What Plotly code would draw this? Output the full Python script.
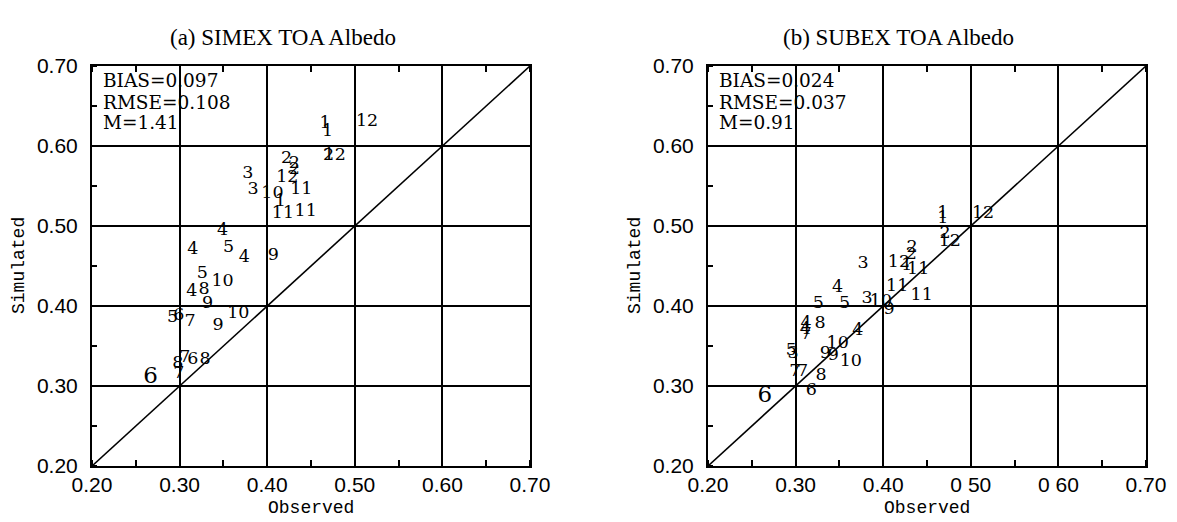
import plotly.graph_objects as go

# ---------------- data ----------------
# (a) SIMEX
simex_labels = ["1", "1", "12", "2", "12", "2", "2", "2", "12", "3", "3", "10", "1", "11", "11", "11",
                "4", "4", "5", "4", "9", "5", "10", "4", "8", "9", "5", "6", "7", "10", "9",
                "7", "6", "8", "8", "7", "6"]
simex_obs = [0.466, 0.469, 0.514, 0.470, 0.477, 0.422, 0.431, 0.431, 0.423, 0.378, 0.384, 0.406, 0.415, 0.439, 0.418, 0.444,
             0.349, 0.315, 0.356, 0.374, 0.407, 0.326, 0.349, 0.314, 0.328, 0.332, 0.292, 0.299, 0.312, 0.367, 0.344,
             0.306, 0.315, 0.329, 0.298, 0.299, 0.267]
simex_sim = [0.628, 0.618, 0.631, 0.588, 0.588, 0.584, 0.578, 0.571, 0.560, 0.565, 0.545, 0.541, 0.530, 0.545, 0.516, 0.518,
             0.494, 0.471, 0.473, 0.460, 0.463, 0.441, 0.431, 0.418, 0.421, 0.403, 0.386, 0.388, 0.381, 0.391, 0.375,
             0.336, 0.333, 0.333, 0.328, 0.315, 0.311]
simex_stats = ["BIAS=0.097", "RMSE=0.108", "M=1.41"]

# (b) SUBEX
subex_labels = ["1", "1", "12", "2", "12", "2", "2", "12", "1", "11", "11", "11", "3", "3", "10", "9",
                "4", "5", "5", "4", "8", "4", "7", "4", "5", "3", "10", "9", "9", "10",
                "7", "7", "8", "6", "6"]
subex_obs = [0.468, 0.468, 0.514, 0.4705, 0.476, 0.433, 0.432, 0.418, 0.427, 0.440, 0.416, 0.444, 0.377, 0.3815, 0.3975, 0.4066,
             0.348, 0.356, 0.326, 0.312, 0.328, 0.311, 0.312, 0.371, 0.295, 0.297, 0.348, 0.334, 0.343, 0.363,
             0.299, 0.308, 0.329, 0.318, 0.265]
subex_sim = [0.516, 0.509, 0.515, 0.490, 0.480, 0.4725, 0.464, 0.454, 0.451, 0.446, 0.424, 0.4125, 0.4525, 0.409, 0.406, 0.395,
             0.4225, 0.4025, 0.4025, 0.3775, 0.3775, 0.370, 0.364, 0.369, 0.344, 0.341, 0.3525, 0.340, 0.3375, 0.331,
             0.3175, 0.3175, 0.3125, 0.294, 0.2875]
subex_stats = ["BIAS=0.024", "RMSE=0.037", "M=0.91"]

titles = ["(a) SIMEX TOA Albedo", "(b) SUBEX TOA Albedo"]
axis_range = [0.20, 0.70]
tick_vals = [0.20, 0.30, 0.40, 0.50, 0.60, 0.70]
xtick_text_a = ["0.20", "0.30", "0.40", "0.50", "0.60", "0.70"]
xtick_text_b = ["0.20", "0.30", "0.40", "0 50", "0 60", "0.70"]
ytick_text = ["0.20", "0.30", "0.40", "0.50", "0.60", "0.70"]
one_to_one = [0.20, 0.70]

# ---------------- layout helpers ----------------
OFF = 8                      # default page body margin
W, H = 1177 - OFF, 522 - OFF
def px(x):
    return (x - OFF) / W
def py(y):
    return 1 - (y - OFF) / H

SERIF = "DejaVu Serif"
TSERIF = "Liberation Serif"
SANS = "Liberation Sans"
MONO = "Liberation Mono"

fig = go.Figure()

panels = [
    dict(xa="x", ya="y", labels=simex_labels, obs=simex_obs, sim=simex_sim, stats=simex_stats,
         dom=[92, 530], xt=xtick_text_a),
    dict(xa="x2", ya="y2", labels=subex_labels, obs=subex_obs, sim=subex_sim, stats=subex_stats,
         dom=[708, 1146], xt=xtick_text_b),
]

for p in panels:
    fig.add_trace(go.Scatter(x=one_to_one, y=one_to_one, mode="lines",
                             line=dict(color="black", width=1.6),
                             xaxis=p["xa"], yaxis=p["ya"], showlegend=False, hoverinfo="skip"))
    sizes = [17.5] * len(p["labels"])
    sizes[-1] = 23  # the last "6" is drawn larger
    fig.add_trace(go.Scatter(x=p["obs"], y=p["sim"], mode="text", text=p["labels"],
                             textposition="middle center",
                             textfont=dict(family=SERIF, size=sizes, color="black"),
                             xaxis=p["xa"], yaxis=p["ya"], showlegend=False))

ax_common = dict(range=axis_range, tickvals=tick_vals, showgrid=True, gridcolor="black", gridwidth=2,
                 zeroline=False, showline=True, linecolor="black", linewidth=2,
                 tickfont=dict(family=SANS, size=21, color="black"), ticks="", automargin=False,
                 fixedrange=True)

layout = dict(width=W, height=H, margin=dict(l=0, r=0, t=0, b=0),
              paper_bgcolor="white", plot_bgcolor="white", showlegend=False)

yd = [py(466), py(66)]
for i, p in enumerate(panels):
    sfx = "" if i == 0 else "2"
    layout["xaxis" + sfx] = dict(ax_common, domain=[px(p["dom"][0]), px(p["dom"][1])],
                                 anchor="y" + sfx, ticktext=p["xt"], mirror="ticks",
                                 ticklabelstandoff=-1,
                                 minor=dict(dtick=0.05, tick0=0.2, ticks="inside", ticklen=6,
                                            tickcolor="black", tickwidth=1.5, showgrid=False))
    layout["yaxis" + sfx] = dict(ax_common, domain=yd, anchor="x" + sfx, ticktext=ytick_text,
                                 mirror=True, ticklabelstandoff=8,
                                 minor=dict(dtick=0.05, tick0=0.2, ticks="inside", ticklen=5,
                                            tickcolor="black", tickwidth=1.5, showgrid=False))

fig.update_layout(**layout)

ann = []
title_centers = [283, 899]
for i, p in enumerate(panels):
    ann.append(dict(text=titles[i], x=px(title_centers[i]), y=py(37), xref="paper", yref="paper",
                    showarrow=False, xanchor="center", yanchor="middle",
                    font=dict(family=TSERIF, size=23, color="black")))
    cx = (p["dom"][0] + p["dom"][1]) / 2
    ann.append(dict(text="Observed", x=px(cx), y=py(508), xref="paper", yref="paper",
                    showarrow=False, xanchor="center", yanchor="middle",
                    font=dict(family=MONO, size=18, color="black")))
    ann.append(dict(text="Simulated", x=px(p["dom"][0] - 73), y=py(266), xref="paper", yref="paper",
                    showarrow=False, xanchor="center", yanchor="middle", textangle=-90,
                    font=dict(family=MONO, size=18, color="black")))
    for j, s in enumerate(p["stats"]):
        ann.append(dict(text=s, x=px(p["dom"][0] + 9), y=py(81 + 21 * j), xref="paper", yref="paper",
                        showarrow=False, xanchor="left", yanchor="middle",
                        font=dict(family=SERIF, size=18.5, color="black")))
fig.update_layout(annotations=ann)

fig.write_html("out.html")
